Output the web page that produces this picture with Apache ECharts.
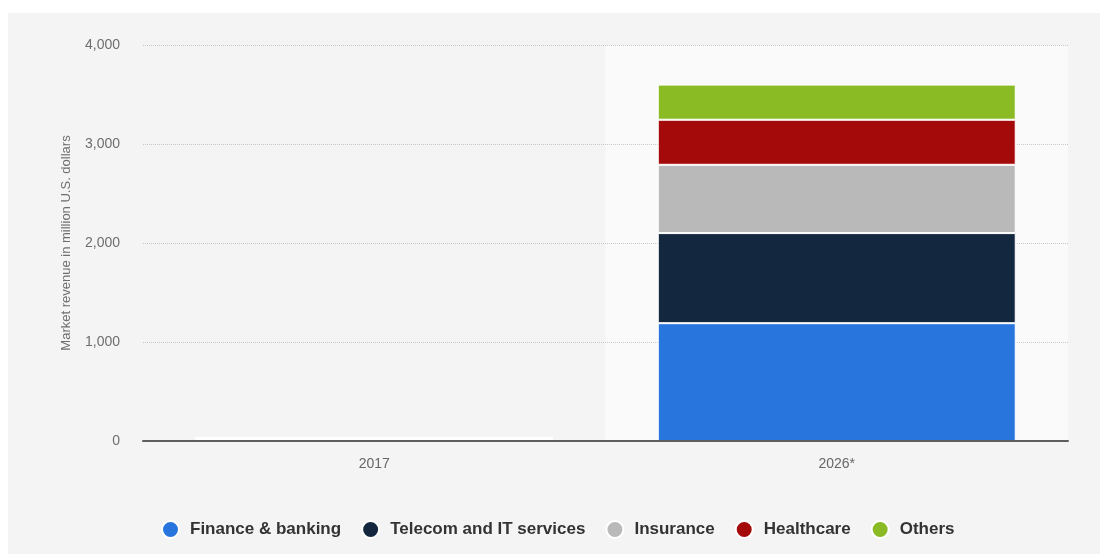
<!DOCTYPE html>
<html>
<head>
<meta charset="utf-8">
<script src="https://cdn.jsdelivr.net/npm/echarts@6/dist/echarts.min.js"></script>
<style>
  html, body { margin: 0; padding: 0; background: #ffffff; }
  #panel { position: absolute; left: 8px; top: 13px; width: 1092px; height: 541px; background: #f4f4f4; }
  #chart { position: absolute; left: 0; top: 0; width: 1100px; height: 554px; }
</style>
</head>
<body>
<div id="panel"></div>
<div id="chart"></div>
<script>
// Market revenue by industry, in million U.S. dollars
const years = ['2017', '2026*'];
const finance = [10, 1190];
const telecom = [9, 910];
const insurance = [7, 690];
const healthcare = [6, 455];
const others = [5, 355];

const seriesNames = ['Finance & banking', 'Telecom and IT services', 'Insurance', 'Healthcare', 'Others'];
const seriesData = [finance, telecom, insurance, healthcare, others];
const seriesColors = ['#2876dd', '#13273f', '#b9b9b9', '#a50a0a', '#8aba24'];

// highlighted category band (hovered year)
const highlight = ['-', 4000];

const font = '"Liberation Sans", Arial, sans-serif';
const chart = echarts.init(document.getElementById('chart'), null, { renderer: 'canvas' });

const stacked = seriesNames.map((name, i) => ({
  name: name,
  type: 'bar',
  stack: 'total',
  xAxisIndex: 0,
  barWidth: '77.4%',
  data: seriesData[i],
  itemStyle: { color: seriesColors[i], borderColor: '#ffffff', borderWidth: 1 },
  emphasis: { disabled: true },
  z: 3
}));

chart.setOption({
  backgroundColor: 'transparent',
  animation: false,
  textStyle: { fontFamily: font },
  grid: { left: 143, right: 32, top: 45, bottom: 113 },
  legend: {
    data: seriesNames,
    bottom: 10,
    left: 156,
    icon: 'circle',
    itemWidth: 17,
    itemHeight: 17,
    itemGap: 20,
    textStyle: { fontFamily: font, fontSize: 17, fontWeight: 'bold', color: '#333333', padding: [0, 0, 0, 6] }
  },
  xAxis: [
    {
      type: 'category',
      data: years,
      z: 6,
      axisLine: { lineStyle: { color: '#5e5e5e', width: 2 } },
      axisTick: { show: false },
      axisLabel: { color: '#666666', fontSize: 14, margin: 16, fontFamily: font }
    },
    {
      type: 'category',
      data: years,
      show: false
    }
  ],
  yAxis: {
    type: 'value',
    min: 0,
    max: 4000,
    interval: 1000,
    z: 2,
    name: 'Market revenue in million U.S. dollars',
    nameLocation: 'middle',
    nameGap: 70,
    nameTextStyle: { color: '#6e6e6e', fontSize: 13, fontFamily: font },
    axisLine: { show: false },
    axisTick: { show: false },
    axisLabel: {
      color: '#6e6e6e',
      fontSize: 14,
      margin: 23,
      fontFamily: font,
      formatter: v => v.toLocaleString('en-US')
    },
    splitLine: { lineStyle: { color: '#c8c8c8', type: [1, 1], width: 1 } }
  },
  series: [
    {
      name: 'band',
      type: 'bar',
      xAxisIndex: 1,
      barWidth: '100%',
      data: highlight,
      itemStyle: { color: '#fafafa' },
      silent: true,
      z: 1
    }
  ].concat(stacked)
});
</script>
</body>
</html>
